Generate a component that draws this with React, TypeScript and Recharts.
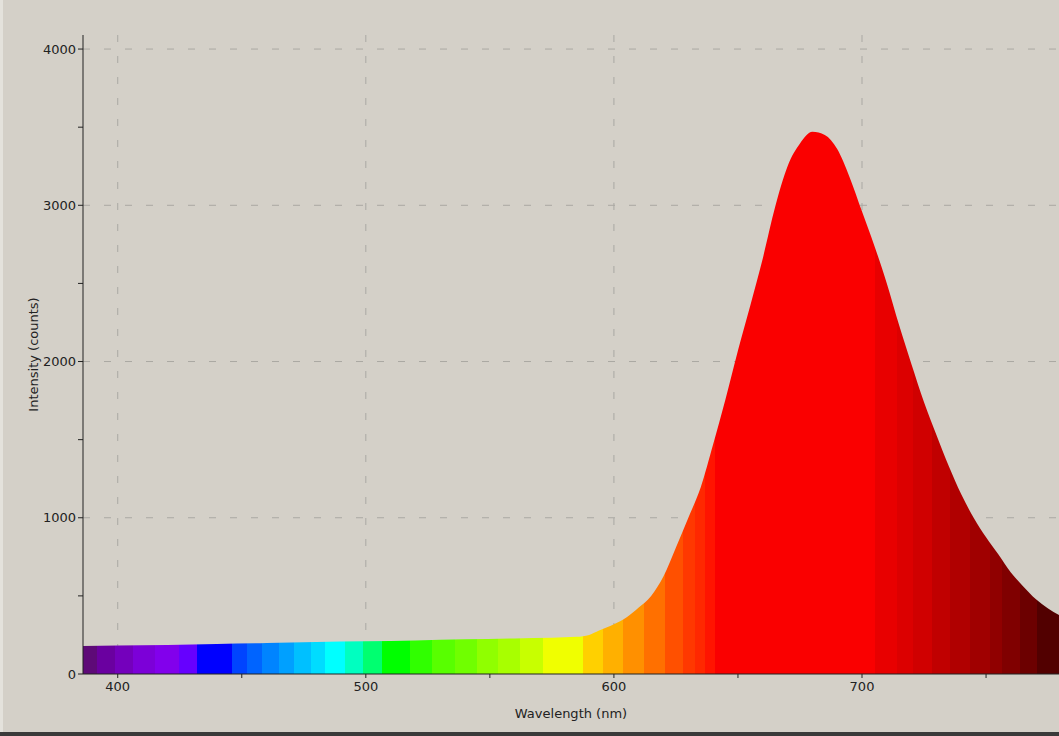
import { AreaChart, Area, XAxis, YAxis, CartesianGrid } from 'recharts'

// wavelength (nm) and intensity (counts)
const wavelengths = [
  386, 400, 420, 440, 460, 480, 500, 520, 540, 560, 575, 585, 590, 594, 600,
  605, 610, 615, 620, 625, 630, 635, 640, 645, 650, 655, 660, 665, 670, 675,
  680, 685, 690, 695, 700, 705, 710, 715, 720, 725, 730, 735, 740, 745, 750,
  755, 760, 765, 770, 775, 779.4,
]
const intensities = [
  180, 182, 186, 192, 198, 205, 210, 215, 222, 228, 232, 238, 250, 278, 318,
  362, 425, 500, 625, 810, 1000, 1195, 1470, 1760, 2070, 2360, 2660, 2990, 3250, 3395,
  3470, 3450, 3360, 3180, 2960, 2740, 2500, 2230, 1980, 1740, 1530, 1330, 1150, 1000, 875,
  765, 650, 560, 480, 420, 378,
]

// colour bands of the fill: start wavelength of each band and its colour
const bandStarts = [
  386, 391.5, 399, 406, 415, 424.6, 432, 446, 452, 458, 465, 471, 478, 483.5,
  491.5, 498.8, 506.5, 517.7, 526.6, 535.9, 544.8, 553.2, 562, 571.4, 587.5,
  595.6, 603.6, 612.1, 620.6, 627.8, 632.7, 636.7, 640.7, 705.2, 714.1, 720.6,
  728.2, 735.5, 743.5, 751.6, 756.5, 763.7, 770.6,
]
const bandColors = [
  '#5e0a78', '#6a00a0', '#7400bc', '#7c00d8', '#8200ec', '#6600ff', '#0000ff',
  '#0044ff', '#0064ff', '#0084ff', '#00a0ff', '#00c0ff', '#00dcff', '#00ffff',
  '#00ffc0', '#00ff70', '#00ff00', '#30ff00', '#58ff00', '#70ff00', '#90ff00',
  '#a8ff00', '#c8ff00', '#f0ff00', '#ffd000', '#ffb000', '#ff9000', '#ff7000',
  '#ff5000', '#ff3800', '#ff2800', '#ff1400', '#fa0000', '#e80000', '#dc0000',
  '#d00000', '#c00000', '#b00000', '#a00000', '#900000', '#800000', '#6c0000',
  '#520000',
]

const xTicks = [400, 450, 500, 550, 600, 650, 700, 750]
const xGrid = [400, 500, 600, 700]
const yTicks = [0, 500, 1000, 1500, 2000, 2500, 3000, 3500, 4000]
const yGrid = [1000, 2000, 3000, 4000]

const X_MIN = 386
const X_MAX = 779.4
const Y_MAX = 4090

const data = wavelengths.map((w, i) => ({ w, v: intensities[i] }))

const FONT = '"DejaVu Sans", sans-serif'
const tickStyle = { fontSize: 13, fill: '#222', fontFamily: FONT }

function bandStops() {
  const span = X_MAX - X_MIN
  const stops: { offset: number; color: string }[] = []
  bandStarts.forEach((s, i) => {
    const end = i + 1 < bandStarts.length ? bandStarts[i + 1] : X_MAX
    stops.push({ offset: (s - X_MIN) / span, color: bandColors[i] })
    stops.push({ offset: (end - X_MIN) / span, color: bandColors[i] })
  })
  return stops
}

export default function App() {
  const stops = bandStops()
  return (
    <div
      style={{
        position: 'absolute', left: 0, top: 0, width: 1059, height: 736,
        background: '#d4d0c8', boxSizing: 'border-box',
        borderBottom: '4px solid #3a3a3a', boxShadow: 'inset 3px 0 0 #e4e2dc',
      }}
    >
      <AreaChart width={1059} height={732} data={data} margin={{ top: 35, right: 0, bottom: 14, left: 0 }}>
        <defs>
          <linearGradient id="spectrum" x1="0" y1="0" x2="1" y2="0">
            {stops.map((s, i) => (
              <stop key={i} offset={s.offset} stopColor={s.color} />
            ))}
          </linearGradient>
        </defs>
        {/* major grid only, at the labelled values */}
        <CartesianGrid
          stroke="#aaa8a3"
          strokeDasharray="7 14"
          verticalCoordinatesGenerator={({ offset }: any) =>
            xGrid.map(v => offset.left + (offset.width * (v - X_MIN)) / (X_MAX - X_MIN))}
          horizontalCoordinatesGenerator={({ offset }: any) =>
            yGrid.map(v => offset.top + offset.height * (1 - v / Y_MAX))}
        />
        <XAxis
          dataKey="w"
          type="number"
          domain={[X_MIN, X_MAX]}
          ticks={xTicks}
          interval={0}
          allowDataOverflow
          tickFormatter={(v: number) => (v % 100 === 0 ? String(v) : '')}
          tick={tickStyle}
          tickSize={4}
          tickMargin={4}
          height={44}
          stroke="#222"
          label={{ value: 'Wavelength (nm)', position: 'insideBottom', offset: 0, style: { fontSize: 13, fill: '#222', fontFamily: FONT } }}
        />
        <YAxis
          type="number"
          domain={[0, Y_MAX]}
          ticks={yTicks}
          interval={0}
          allowDataOverflow
          tickFormatter={(v: number) => (v % 1000 === 0 ? String(v) : '')}
          tick={tickStyle}
          tickSize={5}
          tickMargin={2}
          width={83}
          stroke="#222"
          label={{
            content: ({ viewBox }: any) => (
              <text
                x={viewBox.x + 33}
                y={viewBox.y + viewBox.height / 2}
                transform={`rotate(-90, ${viewBox.x + 33}, ${viewBox.y + viewBox.height / 2})`}
                textAnchor="middle"
                dominantBaseline="central"
                style={{ fontSize: 13, fill: '#222', fontFamily: FONT }}
              >
                Intensity (counts)
              </text>
            ),
          }}
        />
        <Area
          type="monotone"
          dataKey="v"
          stroke="none"
          fill="url(#spectrum)"
          fillOpacity={1}
          isAnimationActive={false}
          dot={false}
          activeDot={false}
        />
      </AreaChart>
    </div>
  )
}
